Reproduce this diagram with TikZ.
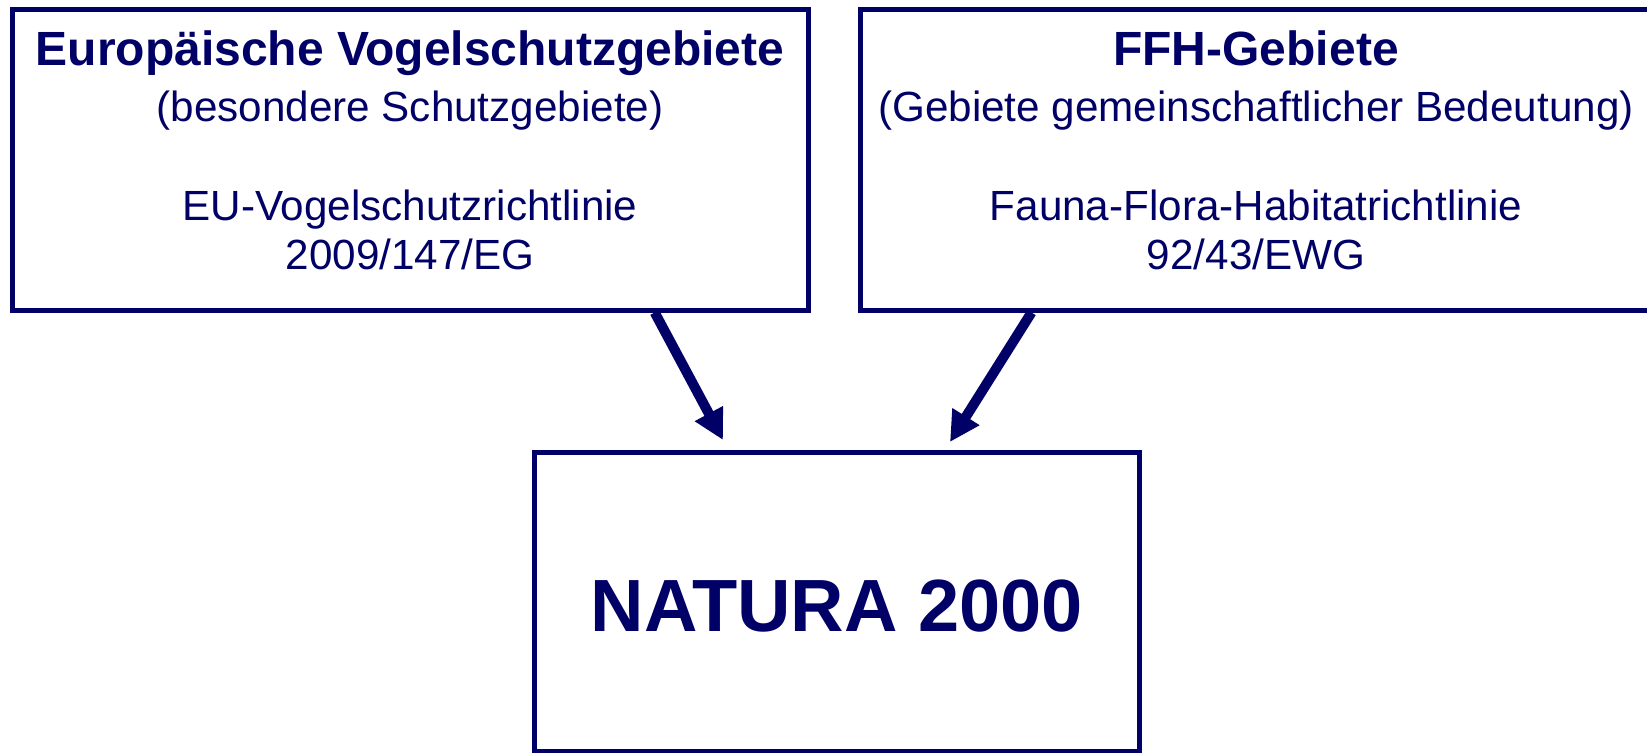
\documentclass[tikz,border=0pt]{standalone}
\usepackage{fontspec}
\setmainfont{Liberation Sans}
\usepackage{tikz}
\definecolor{natblue}{HTML}{000066}
\usetikzlibrary{arrows.meta}

\begin{document}
\begin{tikzpicture}[x=0.5bp,y=-0.5bp,>={Triangle[length=15bp,width=15bp]},
  every node/.style={text=natblue,inner sep=0pt},
  box/.style={draw=natblue,line width=2.5bp,rectangle},
  headtxt/.style={font=\fontsize{24bp}{28bp}\selectfont\bfseries,anchor=base},
  bodytxt/.style={font=\fontsize{21.1bp}{25bp}\selectfont,anchor=base}]
\useasboundingbox (0,0) rectangle (1647,753);
% boxes
\node[box,minimum width=397.75bp,minimum height=150.25bp] (vogel) at (410.25,159.75) {};
\node[box,minimum width=397.75bp,minimum height=150.25bp] (ffh) at (1258,159.75) {};
\node[box,minimum width=302.25bp,minimum height=149.25bp] (natura) at (836.75,601.75) {};
% texts
\node[headtxt] (vogeltitle) at (410,65) {Europäische Vogelschutzgebiete};
\node[bodytxt] (vogelsub) at (410,121) {(besondere Schutzgebiete)};
\node[bodytxt] (vogelrl) at (410,220) {EU-Vogelschutzrichtlinie};
\node[bodytxt] (vogelnr) at (410,269) {2009/147/EG};
\node[headtxt] (ffhtitle) at (1256,65) {FFH-Gebiete};
\node[bodytxt] (ffhsub) at (1256,121) {(Gebiete gemeinschaftlicher Bedeutung)};
\node[bodytxt] (ffhrl) at (1256,220) {Fauna-Flora-Habitatrichtlinie};
\node[bodytxt] (ffhnr) at (1256,269) {92/43/EWG};
\node[font=\fontsize{37bp}{44bp}\selectfont\bfseries,anchor=base] (naturatxt) at (837,631) {NATURA 2000};
% arrows
\coordinate (vogeltip) at (723,440);
\coordinate (ffhtip) at (950,442);
\draw[->,natblue,line width=5bp] (vogel.-32.7) -- (vogeltip);
\draw[->,natblue,line width=5bp] (ffh.-146.6) -- (ffhtip);
\end{tikzpicture}
\end{document}
